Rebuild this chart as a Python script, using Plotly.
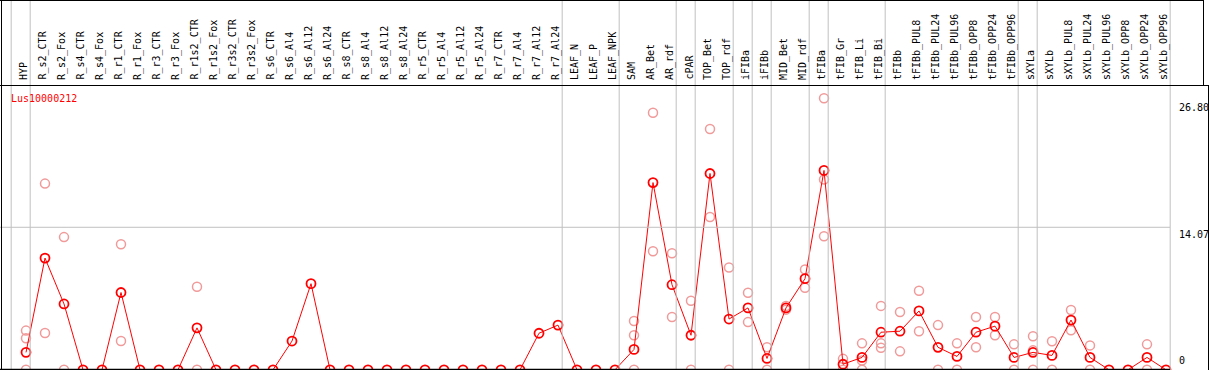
import plotly.graph_objects as go

categories = ["HYP", "R_s2_CTR", "R_s2_Fox", "R_s4_CTR", "R_s4_Fox", "R_r1_CTR", "R_r1_Fox",
              "R_r3_CTR", "R_r3_Fox", "R_r1s2_CTR", "R_r1s2_Fox", "R_r3s2_CTR", "R_r3s2_Fox",
              "R_s6_CTR", "R_s6_Al4", "R_s6_Al12", "R_s6_Al24", "R_s8_CTR", "R_s8_Al4", "R_s8_Al12",
              "R_s8_Al24", "R_r5_CTR", "R_r5_Al4", "R_r5_Al12", "R_r5_Al24", "R_r7_CTR", "R_r7_Al4",
              "R_r7_Al12", "R_r7_Al24", "LEAF_N", "LEAF_P", "LEAF_NPK", "SAM", "AR_Bet", "AR_rdf",
              "cPAR", "TOP_Bet", "TOP_rdf", "iFIBa", "iFIBb", "MID_Bet", "MID_rdf", "tFIBa",
              "tFIB_Gr", "tFIB_Li", "tFIB_Bi", "tFIBb", "tFIBb_PUL8", "tFIBb_PUL24", "tFIBb_PUL96",
              "tFIBb_OPP8", "tFIBb_OPP24", "tFIBb_OPP96", "sXYLa", "sXYLb", "sXYLb_PUL8",
              "sXYLb_PUL24", "sXYLb_PUL96", "sXYLb_OPP8", "sXYLb_OPP24", "sXYLb_OPP96"]

mean_values = [1.72, 11.03, 6.5, 0, 0, 7.63, 0, 0, 0, 4.14, 0, 0, 0, 0, 2.84, 8.5, 0, 0, 0, 0,
               0, 0, 0, 0, 0, 0, 0, 3.61, 4.41, 0, 0, 0, 2.01, 18.48, 8.4, 3.41, 19.38, 5.01,
               6.11, 1.12, 6.11, 9.0, 19.68, 0.55, 1.22, 3.71, 3.81, 5.81, 2.22, 1.32, 3.71,
               4.31, 1.22, 1.72, 1.42, 4.91, 1.22, 0, 0, 1.22, 0]

rep_categories = ["HYP", "HYP", "HYP", "R_s2_CTR", "R_s2_CTR", "R_s2_Fox", "R_s2_Fox",
                  "R_r1_CTR", "R_r1_CTR", "R_r1s2_CTR", "R_r1s2_CTR", "SAM", "SAM", "SAM",
                  "AR_Bet", "AR_Bet", "AR_rdf", "AR_rdf", "cPAR", "cPAR", "TOP_Bet", "TOP_Bet",
                  "TOP_rdf", "TOP_rdf", "iFIBa", "iFIBa", "iFIBb", "iFIBb", "MID_Bet", "MID_Bet",
                  "MID_rdf", "MID_rdf", "tFIBa", "tFIBa", "tFIBa", "tFIB_Gr", "tFIB_Gr",
                  "tFIB_Li", "tFIB_Li", "tFIB_Li", "tFIB_Bi", "tFIB_Bi", "tFIB_Bi", "tFIBb", "tFIBb",
                  "tFIBb_PUL8", "tFIBb_PUL8", "tFIBb_PUL24", "tFIBb_PUL24", "tFIBb_PUL96",
                  "tFIBb_PUL96", "tFIBb_OPP8", "tFIBb_OPP8", "tFIBb_OPP24", "tFIBb_OPP24",
                  "tFIBb_OPP96", "tFIBb_OPP96", "sXYLa", "sXYLa", "sXYLa", "sXYLb", "sXYLb",
                  "sXYLb_PUL8", "sXYLb_PUL8", "sXYLb_PUL24", "sXYLb_PUL24", "sXYLb_OPP24",
                  "sXYLb_OPP24"]
rep_values = [3.87, 3.11, 0, 18.38, 3.64, 13.1, 0,
              12.39, 2.84, 8.2, 0, 4.81, 3.41, 0,
              25.37, 11.7, 11.5, 5.21, 6.81, 0, 23.77, 15.09,
              10.1, 0, 7.6, 4.71, 2.22, 0, 6.31, 5.94,
              9.9, 8.1, 26.8, 18.78, 13.19, 1.08, 0,
              2.61, 0.91, 0, 6.31, 2.61, 2.18, 5.71, 1.82,
              7.8, 3.81, 4.41, 0, 2.61,
              0, 5.21, 2.22, 5.21, 3.41,
              2.51, 0, 3.31, 1.92, 0, 2.81, 0,
              5.91, 3.91, 2.41, 0, 2.51,
              0]

group_ends = ["HYP", "R_r7_Al24", "LEAF_NPK", "AR_rdf", "cPAR", "TOP_rdf", "iFIBa", "iFIBb",
              "MID_rdf", "tFIBa", "tFIB_Bi", "tFIBb_OPP96", "sXYLa", "sXYLb_OPP96"]

y_ticks = [0, 14.07, 26.80]
y_tick_labels = ["0", "14.07", "26.80"]
gene_name = "Lus10000212"

W, H = 1209, 370
FONT = "DejaVu Sans Mono"
idx = {c: i for i, c in enumerate(categories)}

x0 = -26 / 19
x1 = x0 + W / 19
y0 = -0.02
y1 = y0 + H / 10.13

def py(p):  # pixel from top -> paper
    return 1 - p / H

def px(p):
    return p / W

fig = go.Figure()

fig.add_trace(go.Scatter(
    x=[idx[c] for c in rep_categories], y=rep_values, mode="markers",
    marker=dict(symbol="circle-open", size=9, color="#f09a9a", line=dict(width=1.5, color="#f09a9a")),
    hoverinfo="skip", showlegend=False))

fig.add_trace(go.Scatter(
    x=list(range(len(categories))), y=mean_values, mode="lines+markers",
    line=dict(color="#ff0000", width=1),
    marker=dict(symbol="circle-open", size=9, color="#ff0000", line=dict(width=1.8, color="#ff0000")),
    showlegend=False))

shapes = []
grid = "#c0c0c0"
sep_positions = [-1] + [idx[c] for c in group_ends]
for s in sep_positions:
    shapes.append(dict(type="line", xref="x", yref="paper", x0=s + 0.22, x1=s + 0.22,
                       y0=0, y1=1, line=dict(color=grid, width=1)))
shapes.append(dict(type="line", xref="paper", yref="y", x0=0, x1=px(1170),
                   y0=y_ticks[1], y1=y_ticks[1], line=dict(color=grid, width=1)))
black = "#000000"
shapes += [
    dict(type="line", xref="paper", yref="paper", x0=0, x1=px(1203), y0=py(0.5), y1=py(0.5),
         line=dict(color=black, width=1)),
    dict(type="line", xref="paper", yref="paper", x0=0, x1=1, y0=py(85.5), y1=py(85.5),
         line=dict(color=black, width=1)),
    dict(type="line", xref="paper", yref="paper", x0=px(1.5), x1=px(1.5), y0=0, y1=1,
         line=dict(color=black, width=1)),
    dict(type="line", xref="paper", yref="paper", x0=px(1203.5), x1=px(1203.5), y0=py(85), y1=1,
         line=dict(color=black, width=1)),
    dict(type="line", xref="paper", yref="paper", x0=px(1208.5), x1=px(1208.5), y0=0, y1=py(85),
         line=dict(color=black, width=1)),
    dict(type="line", xref="paper", yref="paper", x0=0, x1=px(1170), y0=py(369.5), y1=py(369.5),
         line=dict(color=black, width=1.5)),
]

annotations = []
for i, c in enumerate(categories):
    annotations.append(dict(x=i, y=py(82), xref="x", yref="paper", text=c, showarrow=False,
                            textangle=-90, xanchor="center", yanchor="bottom", xshift=-2,
                            font=dict(family=FONT, size=10, color="#000000")))
annotations.append(dict(x=px(9), y=py(91), xref="paper", yref="paper", text=gene_name,
                        showarrow=False, xanchor="left", yanchor="top",
                        font=dict(family=FONT, size=10, color="#ff0000")))
tick_y_pix = [368, 227, 100]
tick_anchor = ["bottom", "top", "top"]
for lab, yp, anc in zip(y_tick_labels, tick_y_pix, tick_anchor):
    annotations.append(dict(x=px(1177), y=py(yp), xref="paper", yref="paper", text=lab,
                            showarrow=False, xanchor="left", yanchor=anc,
                            font=dict(family=FONT, size=10, color="#000000")))

fig.update_layout(
    width=W, height=H, margin=dict(l=0, r=0, t=0, b=0),
    paper_bgcolor="white", plot_bgcolor="white",
    xaxis=dict(range=[x0, x1], visible=False, domain=[0, 1]),
    yaxis=dict(range=[y0, y1], visible=False, domain=[0, 1]),
    shapes=shapes, annotations=annotations, showlegend=False,
)

fig.write_html("out.html", config={"displayModeBar": False},
               post_script="document.body.style.margin='0px';document.body.style.overflow='hidden';")
